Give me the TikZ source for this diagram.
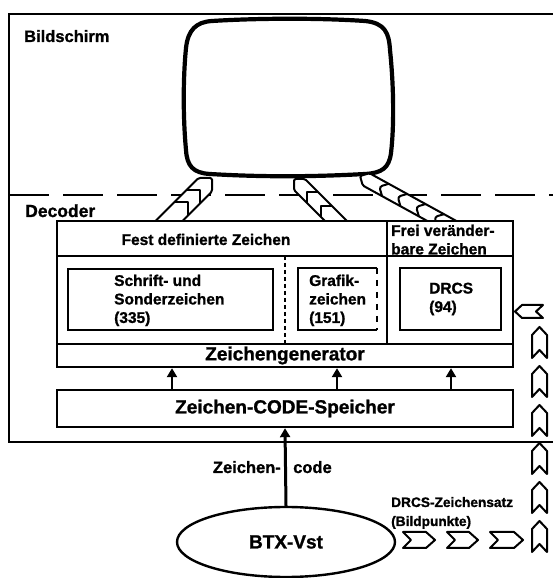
\documentclass[tikz,border=0pt]{standalone}
\usepackage{fontspec}
\setmainfont{Liberation Sans}[BoldFeatures={FakeBold=1.2}]
\usetikzlibrary{arrows.meta,shapes.geometric}

\begin{document}
\begin{tikzpicture}[x=1pt, y=1pt, line width=2.4pt,
    head/.style={font=\fontsize{16.5}{20}\selectfont\bfseries, inner sep=0pt},
    txt/.style={font=\fontsize{15.5}{18.5}\selectfont\bfseries, inner sep=0pt, align=left},
    big/.style={font=\fontsize{19}{22}\selectfont\bfseries, inner sep=0pt},
    note/.style={font=\fontsize{13.7}{17}\selectfont\bfseries, inner sep=0pt},
    band/.style={line width=2pt, line join=round},
    chev/.style={fill=white, line width=2pt, line join=round},
    arr/.style={-{Triangle[length=9pt, width=10pt]}, line width=2.6pt}]
    \useasboundingbox (0,0) rectangle (553,578);
    % Outer frame
    \draw (553,564) -- (9,564) -- (9,136) -- (553,136);
    % Boundary screen / decoder
    \draw[line width=2.6pt, dash pattern=on 40pt off 14pt] (9,383) -- (553,383);
    \node[head, anchor=base west] (screenlbl) at (23,536) {Bildschirm};
    \node[head, font=\fontsize{17.5}{20}\selectfont\bfseries, anchor=base west] (decoderlbl) at (24,361) {Decoder};
    % Screen
    \draw[line width=4.2pt] (212,557) .. controls (260,560) and (320,560) .. (365,557)
        .. controls (385,555) and (389,545) .. (390,528)
        .. controls (394,490) and (394,450) .. (391,425)
        .. controls (389,410) and (382,405) .. (365,404)
        .. controls (310,401) and (260,401) .. (210,404)
        .. controls (193,405) and (187,412) .. (186,428)
        .. controls (183,460) and (183,500) .. (186,530)
        .. controls (188,548) and (196,556) .. (212,557) -- cycle;
    % Bands screen -- decoder
    \begin{scope}
        \clip (0,357) rectangle (553,578);
        \begin{scope}[shift={(212,400)}, rotate=45]
            \filldraw[band, fill=white, rounded corners=1.5pt] (-90,-9.5) -- (-9.5,-9.5) -- (0,0) -- (-9.5,9.5) -- (-90,9.5) -- cycle;
            \draw[band] (-26.5,-9.5) -- (-17,0) -- (-26.5,9.5);
            \draw[band] (-43.5,-9.5) -- (-34,0) -- (-43.5,9.5);
        \end{scope}
        \begin{scope}[shift={(294,399)}, rotate=135]
            \filldraw[band, fill=white, rounded corners=1.5pt] (-90,-7.8) -- (-7.8,-7.8) -- (0,0) -- (-7.8,7.8) -- (-90,7.8) -- cycle;
            \draw[band] (-26.8,-7.8) -- (-19,0) -- (-26.8,7.8);
            \draw[band] (-45.8,-7.8) -- (-38,0) -- (-45.8,7.8);
        \end{scope}
        \begin{scope}[shift={(360,402)}, rotate=151.2]
            \filldraw[band, fill=white, rounded corners=1.5pt] (-120,-7) -- (-7,-7) -- (0,0) -- (-7,7) -- (-120,7) -- cycle;
            \draw[band, rounded corners=3pt] (-29,-7) -- (-22,0) -- (-29,7);
            \draw[band, rounded corners=3pt] (-50,-7) -- (-43,0) -- (-50,7);
            \draw[band, rounded corners=3pt] (-71,-7) -- (-64,0) -- (-71,7);
            \draw[band, rounded corners=3pt] (-92,-7) -- (-85,0) -- (-92,7);
        \end{scope}
    \end{scope}
    % Decoder box
    \draw (57,211) rectangle (513,357);
    \draw (57,322) -- (513,322);
    \draw (57,234) -- (513,234);
    \draw (387,357) -- (387,234);
    \draw[line width=1.2pt, dash pattern=on 4pt off 3pt] (285,322) -- (285,234);
    \node[txt, anchor=base] (fixedlbl) at (206,333) {Fest definierte Zeichen};
    \node[txt, anchor=north west] (freelbl) at (390,354.5) {Frei veränder-\\bare Zeichen};
    % Character sets
    \draw[line width=1.8pt] (68,248) rectangle (273,309);
    \node[txt, anchor=north west] (fontlbl) at (113,304.5) {Schrift- und\\Sonderzeichen\\(335)};
    \draw[line width=1.8pt] (377,248) -- (298,248) -- (298,310) -- (377,310);
    \draw[line width=1.8pt, dash pattern=on 6pt off 6pt] (377,310) -- (377,248);
    \node[txt, anchor=north west] (graphlbl) at (308,304.5) {Grafik-\\zeichen\\(151)};
    \draw[line width=1.8pt] (400,248) rectangle (501,310);
    \node[txt, anchor=north west] (drcslbl) at (428,296.5) {DRCS\\(94)};
    % Generator and memory
    \node[big, minimum width=456pt, minimum height=23pt] (gen) at (285,222.5) {Zeichengenerator};
    \node[big, draw, minimum width=456pt, minimum height=37pt] (speicher) at (285,169.5) {Zeichen-CODE-Speicher};
    \coordinate (colA) at (172,0);
    \coordinate (colB) at (337,0);
    \coordinate (colC) at (451,0);
    \draw[arr] (speicher.north -| colA) -- (gen.south -| colA);
    \draw[arr] (speicher.north -| colB) -- (gen.south -| colB);
    \draw[arr] (speicher.north -| colC) -- (gen.south -| colC);
    % BTX-Vst
    \node[big, draw, ellipse, minimum width=218pt, minimum height=70pt] (btx) at (286,36) {BTX-Vst};
    \draw[arr, line width=3pt] (btx.north) -- (speicher.south);
    \node[txt, font=\fontsize{16.5}{20}\selectfont\bfseries, anchor=base east] (codeleft) at (282,105) {Zeichen-};
    \node[txt, font=\fontsize{16.5}{20}\selectfont\bfseries, anchor=base west] (coderight) at (292,105) {code};
    % DRCS character set
    \node[note, anchor=base west] (setlbl) at (390,71) {DRCS-Zeichensatz};
    \node[note, anchor=base west] (pixlbl) at (390,52) {(Bildpunkte)};
    \filldraw[chev] (403,46) -- (426,46) -- (435,38) -- (426,30) -- (403,30) -- (411,38) -- cycle;
    \filldraw[chev] (447,46) -- (469,46) -- (478,38) -- (469,30) -- (447,30) -- (455,38) -- cycle;
    \filldraw[chev] (490,46) -- (514,46) -- (523,38) -- (514,30) -- (490,30) -- (498,38) -- cycle;
    \filldraw[chev] (532,26) -- (532,49) -- (539.5,57) -- (547,49) -- (547,26) -- (539.5,34) -- cycle;
    \filldraw[chev] (532,65) -- (532,88) -- (539.5,96) -- (547,88) -- (547,65) -- (539.5,73) -- cycle;
    \filldraw[chev] (532,104) -- (532,127) -- (539.5,135) -- (547,127) -- (547,104) -- (539.5,112) -- cycle;
    \filldraw[chev] (532,142) -- (532,165) -- (539.5,173) -- (547,165) -- (547,142) -- (539.5,150) -- cycle;
    \filldraw[chev] (532,181) -- (532,204) -- (539.5,212) -- (547,204) -- (547,181) -- (539.5,189) -- cycle;
    \filldraw[chev] (532,220) -- (532,243) -- (539.5,251) -- (547,243) -- (547,220) -- (539.5,228) -- cycle;
    \filldraw[chev] (515,266.5) -- (522,273) -- (543,273) -- (536,266.5) -- (543,260) -- (522,260) -- cycle;
\end{tikzpicture}
\end{document}
